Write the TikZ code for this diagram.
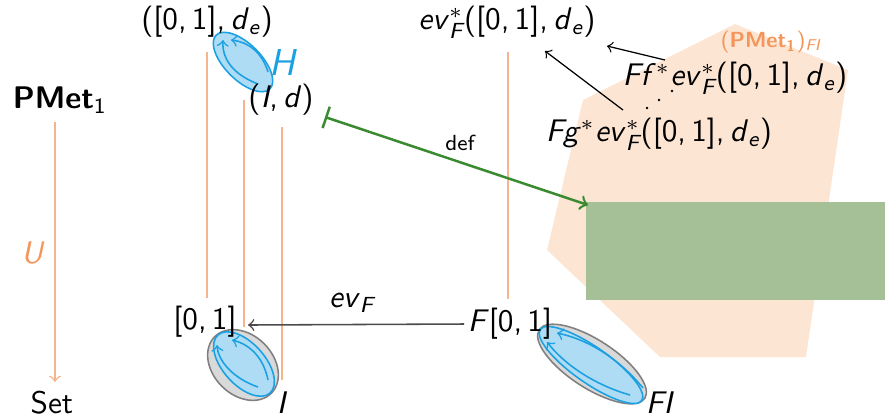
\documentclass[tikz,border=0pt]{standalone}
\usepackage{amsmath}
\definecolor{lineor}{HTML}{F7B48F}
\definecolor{labor}{HTML}{F4955A}
\definecolor{peach}{HTML}{FDE5D3}
\definecolor{grarrow}{HTML}{3A8A30}
\definecolor{grrect}{HTML}{A5C097}
\definecolor{ellgray}{HTML}{D9D9D9}
\definecolor{ellblue}{HTML}{AEDCF5}
\definecolor{blueln}{HTML}{1BA1E2}
\newcommand{\si}[1]{\textit{#1}}
\newcommand{\evF}{\si{ev}$^{*}_{\si{F}}$}
\newcommand{\unitde}{([0,\,1],\,\si{d}$_{\si{e}}$)}
\begin{document}
\begin{tikzpicture}[x=0.32pt,y=-0.32pt,>=to,
  lbl/.style={inner sep=1pt,font=\sffamily},
  orline/.style={draw=lineor,line width=0.5pt},
  grayell/.style={fill=ellgray,draw=gray,line width=0.5pt},
  blueell/.style={fill=ellblue,draw=blueln,line width=0.5pt},
  bluecurve/.style={draw=blueln,line width=0.5pt,->}]
\sffamily
\useasboundingbox (0,0) rectangle (885,416);
% peach region
\fill[peach] (735,24) -- (848,70) -- (806,357) -- (660,357) -- (547,250) -- (583,100) -- cycle;
\node[lbl,text=labor,font=\sffamily\scriptsize] (pmetfi) at (771,42) {(\textbf{PMet}$_{\textsf{\textbf{1}}}$)$_{\si{FI}}$};
% green rectangle
\fill[grrect] (586,202) rectangle (885,300);
\coordinate (rect) at (588,205);
% orange lines
\draw[orline] (207,52) -- (207,298);
\draw[orline] (244,100) -- (244,327);
\draw[orline] (282,127) -- (282,380);
\draw[orline] (508,52) -- (508,299);
% left
\node[lbl] (pmet) at (60,100) {\textbf{PMet}$_{\textsf{1}}$};
\node[lbl] (set) at (52,403) {Set};
\draw[draw=lineor,line width=0.5pt,->] (55,122) -- (55,382);
\node[lbl,text=labor] (U) at (33,253) {\si{U}};
% H ellipse
\filldraw[blueell,rotate around={-45:(243,62)}] (243,62) ellipse [x radius=38,y radius=18];
\draw[bluecurve] (258,84) .. controls (232,74) and (222,58) .. (223,40);
\draw[bluecurve] (268,72) .. controls (262,52) and (248,42) .. (231,40);
\node[lbl,text=blueln,font=\sffamily\large] (H) at (283,62) {\si{H}};
% top texts
\node[lbl] (top01) at (207,22) {\unitde};
\node[lbl] (Id) at (281,100) {(\si{I},\,\si{d})};
% lower left ellipse
\filldraw[grayell,rotate around={-45:(243,365)}] (243,365) ellipse [x radius=40,y radius=30];
\filldraw[blueell,rotate around={-48:(244,364)}] (244,364) ellipse [x radius=39,y radius=21];
\draw[bluecurve] (258,387) .. controls (232,378) and (218,360) .. (217,345);
\draw[bluecurve] (268,380) .. controls (264,360) and (252,345) .. (232,340);
\node[lbl] (zo) at (205,322) {[0,\,1]};
\node[lbl] (I) at (282,403) {\si{I}};
% FI ellipse
\filldraw[grayell,rotate around={-33:(592,364)}] (592,364) ellipse [x radius=63,y radius=24];
\filldraw[blueell,rotate around={-35:(591,365)}] (591,365) ellipse [x radius=62,y radius=18];
\draw[bluecurve] (630,395) .. controls (595,385) and (565,365) .. (547,342);
\draw[bluecurve] (643,388) .. controls (620,360) and (590,340) .. (557,333);
\node[lbl] (F01) at (510,324) {\si{F}[0,\,1]};
\node[lbl] (FI) at (660,403) {\si{FI}};
% evF arrow
\coordinate (evend) at (248,325);
\draw[draw=black!70,line width=0.5pt,->] (F01.west) -- (evend);
\node[lbl] (evF) at (352,303) {\si{ev}$_{\si{F}}$};
% right texts
\node[lbl] (evtop) at (507,22) {\evF\unitde};
\node[lbl] (Ff) at (735,78) {\si{Ff}$^{*}$\evF\unitde};
\node[lbl] (Fg) at (659,134) {\si{Fg}$^{*}$\evF\unitde};
\fill (647,108) circle (1.4) (659,100) circle (1.4) (672,91) circle (1.4);
\draw[line width=0.4pt,->] (665,60) -- (607,46);
\draw[line width=0.4pt,->] (623,110) -- (545,51);
% def arrow
\coordinate (defstart) at (325,117);
\draw[grarrow,line width=0.8pt,|->] (defstart) -- (rect);
\node[lbl,font=\sffamily\scriptsize] (def) at (460,143) {def};
\end{tikzpicture}
\end{document}
